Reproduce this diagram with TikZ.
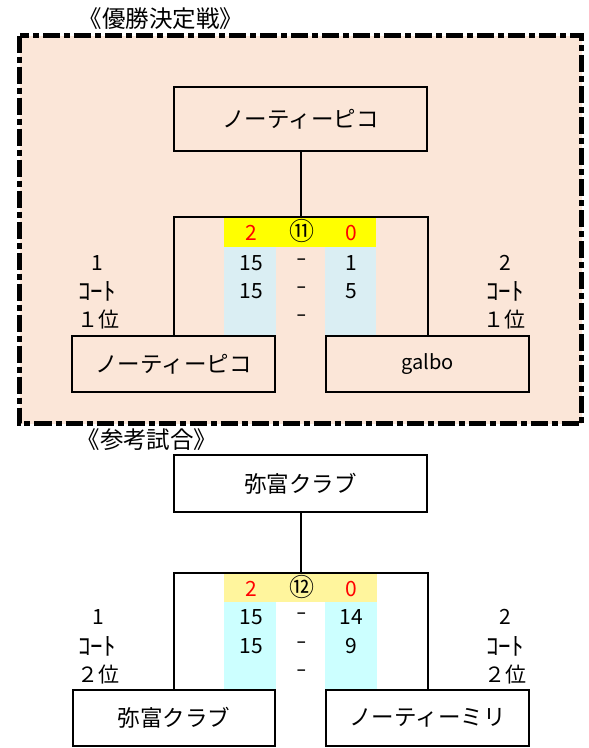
\documentclass[tikz,border=0pt]{standalone}
\usepackage{fontspec}
\setmainfont{Noto Sans CJK JP}
\definecolor{peach}{HTML}{FBE6D8}
\definecolor{ylw}{HTML}{FFFF00}
\definecolor{paleylw}{HTML}{FFF59D}
\definecolor{greyblue}{HTML}{DAEEF3}
\definecolor{cyanlt}{HTML}{CCFFFF}
\definecolor{scorered}{HTML}{FF0000}
\newcommand{\scoredash}{\scalebox{0.5}[1]{－}}
\tikzset{
  team/.style={draw, line width=2pt, inner sep=0pt, font=\fontsize{22.5}{22}\selectfont},
  link/.style={line width=2pt},
  txt/.style={inner sep=0pt, font=\fontsize{21}{21}\selectfont},
  court/.style={inner sep=0pt, font=\fontsize{25}{25}\selectfont},
  circ/.style={inner sep=0pt, font=\fontsize{25}{25}\selectfont},
  red score/.style={txt, text=scorered},
  title/.style={inner sep=0pt, font=\fontsize{23.5}{24}\selectfont},
  frame/.style={fill=peach, line width=5pt, dash pattern=on 17pt off 4pt on 6pt off 4pt}
}
\begin{document}
\begin{tikzpicture}[x=1pt,y=-1pt]
\useasboundingbox (0,0) rectangle (589,748);
% ---------- section 1 ----------
\draw[frame] (19.5,35.5) rectangle (581.5,423.5);
\node[title] (t1) at (161,19) {《優勝決定戦》};
\fill[ylw] (224,218) rectangle (376,247);
\fill[greyblue] (224,247) rectangle (276,335);
\fill[greyblue] (325,247) rectangle (376,335);
\node[team, minimum width=253pt, minimum height=64pt] (w1) at (300.5,119) {ノーティーピコ};
\node[team, minimum width=203pt, minimum height=56pt] (a1) at (173.5,364) {ノーティーピコ};
\node[team, minimum width=203pt, minimum height=56pt] (b1) at (427.5,364) {\fontsize{20}{20}\selectfont galbo};
\coordinate (j1) at (300.5,217);
\draw[link] (w1.south) -- (j1);
\draw[link] (a1.north) |- (j1) -| (b1.north);
\node[red score] (s1a) at (251,233) {2};
\node[circ] (m1) at (302,231) {⑪};
\node[red score] (s1b) at (351,233) {0};
\node[txt] (r11a) at (251,263) {15};
\node[txt] (r11m) at (302,263) {\scoredash};
\node[txt] (r11b) at (351,263) {1};
\node[txt] (r12a) at (251,291) {15};
\node[txt] (r12m) at (302,291) {\scoredash};
\node[txt] (r12b) at (351,291) {5};
\node[txt] (r13m) at (302,319) {\scoredash};
\node[txt] (l1a) at (97,263) {1};
\node[court] (l1b) at (97,291) {ｺｰﾄ};
\node[txt] (l1c) at (98,320) {１位};
\node[txt] (q1a) at (505,263) {2};
\node[court] (q1b) at (505,291) {ｺｰﾄ};
\node[txt] (q1c) at (504,320) {１位};
% ---------- section 2 ----------
\node[title] (t2) at (147,440) {《参考試合》};
\fill[paleylw] (224,574) rectangle (377,602);
\fill[cyanlt] (224,602) rectangle (276,689);
\fill[cyanlt] (325,602) rectangle (377,689);
\node[team, minimum width=253pt, minimum height=57pt] (w2) at (300.5,483.5) {弥富クラブ};
\node[team, minimum width=202pt, minimum height=56pt] (a2) at (174,718) {弥富クラブ};
\node[team, minimum width=203pt, minimum height=56pt] (b2) at (427.5,718) {ノーティーミリ};
\coordinate (j2) at (300.5,573);
\draw[link] (w2.south) -- (j2);
\draw[link] (a2.north) |- (j2) -| (b2.north);
\node[red score] (s2a) at (251,589) {2};
\node[circ] (m2) at (302,587) {⑫};
\node[red score] (s2b) at (351,589) {0};
\node[txt] (r21a) at (251,617) {15};
\node[txt] (r21m) at (302,617) {\scoredash};
\node[txt] (r21b) at (351,617) {14};
\node[txt] (r22a) at (251,646) {15};
\node[txt] (r22m) at (302,646) {\scoredash};
\node[txt] (r22b) at (351,646) {9};
\node[txt] (r23m) at (302,674) {\scoredash};
\node[txt] (l2a) at (98,617) {1};
\node[court] (l2b) at (97,646) {ｺｰﾄ};
\node[txt] (l2c) at (98,675) {２位};
\node[txt] (q2a) at (505,617) {2};
\node[court] (q2b) at (505,646) {ｺｰﾄ};
\node[txt] (q2c) at (505,675) {２位};
\end{tikzpicture}
\end{document}
